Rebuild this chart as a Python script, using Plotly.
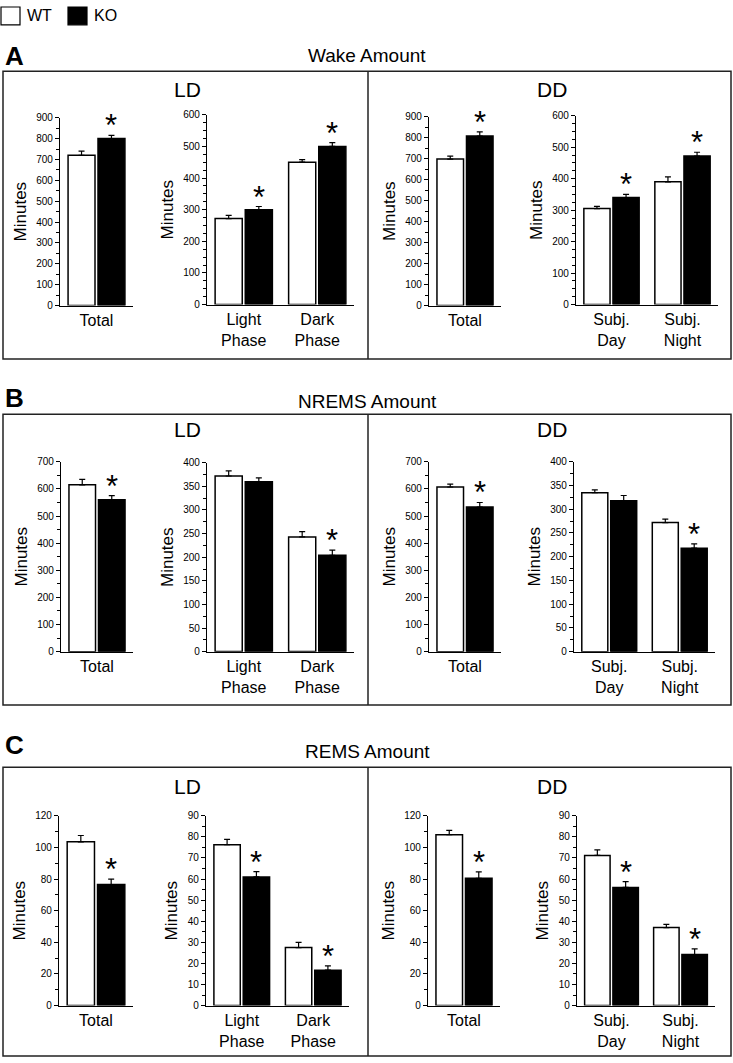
import plotly.graph_objects as go

W, H = 733, 1063
FONT = "Liberation Sans, Arial, Helvetica, sans-serif"

# ---------------- data ----------------
cats_total = ["Total"]
cats_ld = ["Light<br>Phase", "Dark<br>Phase"]
cats_dd = ["Subj.<br>Day", "Subj.<br>Night"]

# Wake amount
wake_ld_total_wt, wake_ld_total_wt_err = [720], [20]
wake_ld_total_ko, wake_ld_total_ko_err = [800], [15]
wake_ld_phase_wt, wake_ld_phase_wt_err = [272, 450], [10, 8]
wake_ld_phase_ko, wake_ld_phase_ko_err = [300, 500], [10, 12]
wake_dd_total_wt, wake_dd_total_wt_err = [698], [14]
wake_dd_total_ko, wake_dd_total_ko_err = [808], [20]
wake_dd_phase_wt, wake_dd_phase_wt_err = [305, 390], [7, 16]
wake_dd_phase_ko, wake_dd_phase_ko_err = [340, 472], [10, 12]

# NREMS amount
nrem_ld_total_wt, nrem_ld_total_wt_err = [615], [20]
nrem_ld_total_ko, nrem_ld_total_ko_err = [560], [15]
nrem_ld_phase_wt, nrem_ld_phase_wt_err = [372, 243], [11, 11]
nrem_ld_phase_ko, nrem_ld_phase_ko_err = [360, 204], [8, 11]
nrem_dd_total_wt, nrem_dd_total_wt_err = [607], [11]
nrem_dd_total_ko, nrem_dd_total_ko_err = [533], [17]
nrem_dd_phase_wt, nrem_dd_phase_wt_err = [335, 272], [6, 7]
nrem_dd_phase_ko, nrem_dd_phase_ko_err = [318, 218], [11, 9]

# REMS amount
rem_ld_total_wt, rem_ld_total_wt_err = [103.5], [4]
rem_ld_total_ko, rem_ld_total_ko_err = [76.5], [3.5]
rem_ld_phase_wt, rem_ld_phase_wt_err = [76.3, 27.5], [2.5, 2.5]
rem_ld_phase_ko, rem_ld_phase_ko_err = [61, 16.8], [2.5, 2]
rem_dd_total_wt, rem_dd_total_wt_err = [108], [2.8]
rem_dd_total_ko, rem_dd_total_ko_err = [80.5], [4]
rem_dd_phase_wt, rem_dd_phase_wt_err = [71.2, 37], [2.6, 1.5]
rem_dd_phase_ko, rem_dd_phase_ko_err = [56, 24.2], [2.8, 2.7]

# significance of KO vs WT
wake_sig = [[True], [True, True], [True], [True, True]]
nrem_sig = [[True], [False, True], [True], [False, True]]
rem_sig = [[True], [True, True], [True], [True, True]]

# axis maxima and tick steps
wake_axes = [(900, 100, 50), (600, 100, 25), (900, 100, 50), (600, 100, 25)]
nrem_axes = [(700, 100, 50), (400, 50, 25), (700, 100, 50), (400, 50, 25)]
rem_axes = [(120, 20, 10), (90, 10, 5), (120, 20, 10), (90, 10, 5)]

panels = [
    ("A", "Wake Amount", wake_axes, wake_sig, [
        (cats_total, wake_ld_total_wt, wake_ld_total_wt_err, wake_ld_total_ko, wake_ld_total_ko_err),
        (cats_ld, wake_ld_phase_wt, wake_ld_phase_wt_err, wake_ld_phase_ko, wake_ld_phase_ko_err),
        (cats_total, wake_dd_total_wt, wake_dd_total_wt_err, wake_dd_total_ko, wake_dd_total_ko_err),
        (cats_dd, wake_dd_phase_wt, wake_dd_phase_wt_err, wake_dd_phase_ko, wake_dd_phase_ko_err),
    ]),
    ("B", "NREMS Amount", nrem_axes, nrem_sig, [
        (cats_total, nrem_ld_total_wt, nrem_ld_total_wt_err, nrem_ld_total_ko, nrem_ld_total_ko_err),
        (cats_ld, nrem_ld_phase_wt, nrem_ld_phase_wt_err, nrem_ld_phase_ko, nrem_ld_phase_ko_err),
        (cats_total, nrem_dd_total_wt, nrem_dd_total_wt_err, nrem_dd_total_ko, nrem_dd_total_ko_err),
        (cats_dd, nrem_dd_phase_wt, nrem_dd_phase_wt_err, nrem_dd_phase_ko, nrem_dd_phase_ko_err),
    ]),
    ("C", "REMS Amount", rem_axes, rem_sig, [
        (cats_total, rem_ld_total_wt, rem_ld_total_wt_err, rem_ld_total_ko, rem_ld_total_ko_err),
        (cats_ld, rem_ld_phase_wt, rem_ld_phase_wt_err, rem_ld_phase_ko, rem_ld_phase_ko_err),
        (cats_total, rem_dd_total_wt, rem_dd_total_wt_err, rem_dd_total_ko, rem_dd_total_ko_err),
        (cats_dd, rem_dd_phase_wt, rem_dd_phase_wt_err, rem_dd_phase_ko, rem_dd_phase_ko_err),
    ]),
]

# ---------------- layout geometry (pixels) ----------------
def X(px):
    return px / W

def Y(py):
    return 1 - py / H

# plot areas: (x_left, x_right, y_top, y_bottom)
plot_px = [
    [(60, 133, 113, 303), (207, 354, 110, 302), (429, 501, 112, 303), (576, 718, 111, 302)],
    [(61, 133, 461, 653), (207, 354, 462, 653), (429, 501, 461, 653), (574, 715, 461, 653)],
    [(59, 133, 819, 1011), (206, 349, 819, 1011), (428, 500, 819, 1011), (577, 715, 819, 1011)],
]
# outer boxes: (top, bottom)
box_px = [(66, 357), (413, 707), (770, 1062)]
box_left, box_right, box_div = 3, 731, 368
letter_y = [51, 396, 747]
title_y = [50, 400, 754]
ld_y = [84, 428, 789]

BARGAP, GROUPGAP = 0.18, 0.1
ko_offset = (1 - BARGAP) / 4  # centre of the second bar within a category

fig = go.Figure()
annotations = []
shapes = []
layout_axes = {}

k = 0
for p, (letter, title, axes, sigs, subs) in enumerate(panels):
    for s, (cats, wt, wt_err, ko, ko_err) in enumerate(subs):
        k += 1
        xa = "x" if k == 1 else f"x{k}"
        ya = "y" if k == 1 else f"y{k}"
        xl, xr, yt, yb = plot_px[p][s]
        ymax, dtick, minor = axes[s]
        fig.add_trace(go.Bar(
            x=cats, y=wt, xaxis=xa, yaxis=ya, name="WT", showlegend=False,
            marker=dict(color="white", line=dict(color="black", width=1.5)),
            error_y=dict(type="data", symmetric=False, array=wt_err,
                         arrayminus=[0] * len(wt), color="black", thickness=1.2, width=3),
        ))
        fig.add_trace(go.Bar(
            x=cats, y=ko, xaxis=xa, yaxis=ya, name="KO", showlegend=False,
            marker=dict(color="black", line=dict(color="black", width=1.5)),
            error_y=dict(type="data", symmetric=False, array=ko_err,
                         arrayminus=[0] * len(ko), color="black", thickness=1.2, width=3),
        ))
        for i, sig in enumerate(sigs[s]):
            if sig:
                annotations.append(dict(
                    x=i + ko_offset, y=ko[i] + ko_err[i], xref=xa, yref=ya,
                    text="*", showarrow=False, yanchor="bottom", yshift=-10,
                    font=dict(family=FONT, size=31, color="black"),
                ))
        xkey = "xaxis" if k == 1 else f"xaxis{k}"
        ykey = "yaxis" if k == 1 else f"yaxis{k}"
        layout_axes[xkey] = dict(
            domain=[X(xl), X(xr)], anchor=ya, type="category",
            range=[-0.5, len(cats) - 0.5],
            showline=True, linecolor="black", linewidth=1.2,
            ticks="", showgrid=False, zeroline=False,
            tickfont=dict(family=FONT, size=16, color="black"),
        )
        layout_axes[ykey] = dict(
            domain=[Y(yb), Y(yt)], anchor=xa, range=[0, ymax],
            tick0=0, dtick=dtick, ticks="outside", ticklen=4, tickwidth=1,
            tickcolor="black", showline=True, linecolor="black", linewidth=1.2,
            showgrid=False, zeroline=False,
            tickfont=dict(family=FONT, size=10, color="black"),
            minor=dict(dtick=minor, tick0=0, ticks="outside", ticklen=2.5,
                       tickcolor="black", tickwidth=1, showgrid=False),
            title=dict(text="Minutes", standoff=5,
                       font=dict(family=FONT, size=17, color="black")),
        )

    top, bottom = box_px[p]
    shapes.append(dict(type="rect", xref="paper", yref="paper",
                       x0=X(box_left), x1=X(box_right), y0=Y(bottom), y1=Y(top),
                       line=dict(color="#222", width=1.5)))
    shapes.append(dict(type="line", xref="paper", yref="paper",
                       x0=X(box_div), x1=X(box_div), y0=Y(bottom), y1=Y(top),
                       line=dict(color="#222", width=1.5)))
    annotations.append(dict(x=X(3), y=Y(letter_y[p]), xref="paper", yref="paper",
                            text=f"<b>{letter}</b>", showarrow=False,
                            xanchor="left", yanchor="middle",
                            font=dict(family=FONT, size=26, color="black")))
    annotations.append(dict(x=X(367), y=Y(title_y[p]), xref="paper", yref="paper",
                            text=title, showarrow=False,
                            xanchor="center", yanchor="middle",
                            font=dict(family=FONT, size=19, color="black")))
    for lx, lab in [(187, "LD"), (552, "DD")]:
        annotations.append(dict(x=X(lx), y=Y(ld_y[p]), xref="paper", yref="paper",
                                text=lab, showarrow=False,
                                xanchor="center", yanchor="middle",
                                font=dict(family=FONT, size=21, color="black")))

# legend drawn at top-left
legend_items = [("WT", "white"), ("KO", "black")]
lx = 1
for name, col in legend_items:
    shapes.append(dict(type="rect", xref="paper", yref="paper",
                       x0=X(lx), x1=X(lx + 19), y0=Y(19), y1=Y(1),
                       fillcolor=col, line=dict(color="black", width=1.2)))
    annotations.append(dict(x=X(lx + 24), y=Y(10), xref="paper", yref="paper",
                            text=name, showarrow=False, xanchor="left", yanchor="middle",
                            font=dict(family=FONT, size=16, color="black")))
    lx += 67

fig.update_layout(
    width=W, height=H, margin=dict(l=0, r=0, t=0, b=0),
    paper_bgcolor="white", plot_bgcolor="white",
    barmode="group", bargap=BARGAP, bargroupgap=GROUPGAP,
    showlegend=False, annotations=annotations, shapes=shapes,
    font=dict(family=FONT, color="black"),
    **layout_axes,
)

fig.write_html(
    "out.html",
    config={"displayModeBar": False},
    post_script="document.body.style.margin='0';document.body.style.overflow='hidden';",
)
